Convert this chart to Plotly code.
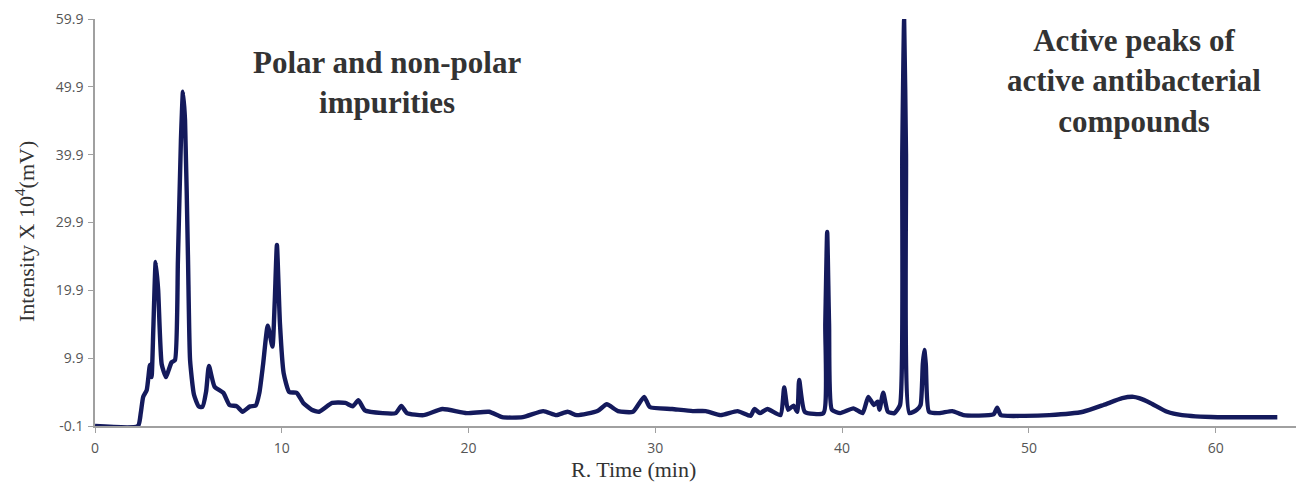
import plotly.graph_objects as go

# Retention time (min)
times = [0, 2.3, 2.45, 2.58, 2.77, 2.94, 3.03, 3.12, 3.25, 3.38, 3.57, 3.8, 3.95, 4.1,
         4.28, 4.44, 4.6, 4.71, 4.82, 4.98, 5.09, 5.3, 5.55, 5.75, 5.95, 6.1, 6.4, 6.87,
         7.2, 7.6, 7.9, 8.3, 8.6, 8.8, 9.0, 9.25, 9.5, 9.62, 9.74, 9.9, 10.1, 10.4, 10.8,
         11.15, 11.6, 12.0, 12.7, 13.4, 13.8, 14.1, 14.45, 15.4, 16.1, 16.4, 16.7, 17.6,
         18.6, 19.9, 21.1, 21.8, 22.9, 24.0, 24.7, 25.3, 25.8, 26.9, 27.4, 28.0, 28.8,
         29.4, 29.7, 30.9, 32.0, 32.7, 33.5, 34.4, 35.1, 35.3, 35.6, 36.0, 36.7, 36.9,
         37.1, 37.4, 37.6, 37.7, 38.0, 39.0, 39.1, 39.2, 39.3, 39.45, 39.9, 40.6, 41.1,
         41.4, 41.7, 41.9, 42.0, 42.2, 42.45, 42.8, 43.1, 43.22, 43.32, 43.42, 43.6, 44.0,
         44.2, 44.32, 44.4, 44.48, 44.65, 45.2, 45.9, 46.5, 48.1, 48.3, 48.5, 49.7, 51.1,
         52.9, 54.0, 55.0, 55.6, 55.9, 56.5, 57.4, 58.2, 60.1, 63.3]

# Intensity x 10^4 (mV)
intensity = [-0.1, -0.1, 1.8, 4.2, 5.2, 8.9, 7.1, 14.0, 24.1, 20.0, 9.0, 7.1, 8.2, 9.3,
             9.6, 24.4, 42.0, 49.2, 45.0, 24.4, 9.6, 4.5, 2.8, 2.7, 5.0, 8.75, 5.7, 4.8,
             3.0, 2.8, 2.0, 2.8, 2.9, 4.8, 9.0, 14.7, 11.6, 18.0, 26.6, 15.1, 7.7, 4.9, 4.8,
             3.3, 2.3, 2.0, 3.3, 3.3, 2.8, 3.7, 2.2, 1.8, 1.8, 2.85, 1.8, 1.5,
             2.4, 1.8, 2.0, 1.2, 1.2, 2.1, 1.5, 2.0, 1.5, 2.1, 3.1, 2.1, 2.0,
             4.2, 2.7, 2.4, 2.1, 2.1, 1.5, 2.1, 1.4, 2.4, 1.8, 2.4, 1.5, 5.6,
             2.3, 2.9, 2.0, 6.7, 2.0, 1.8, 15.0, 28.5, 15.0, 2.3, 1.8, 2.5, 1.8,
             4.2, 3.0, 3.5, 2.3, 4.8, 2.0, 1.8, 3.0, 40.0, 59.8, 40.0, 1.8, 2.3,
             3.0, 9.0, 11.1, 9.0, 2.0, 1.8, 2.1, 1.5, 1.6, 2.6, 1.5, 1.4, 1.5,
             2.0, 3.0, 4.0, 4.2, 4.0, 3.3, 2.0, 1.5, 1.2, 1.2]

y_ticks = [-0.1, 9.9, 19.9, 29.9, 39.9, 49.9, 59.9]
y_tick_labels = ["-0.1", "9.9", "19.9", "29.9", "39.9", "49.9", "59.9"]
x_ticks = [0, 10, 20, 30, 40, 50, 60]

n = min(len(times), len(intensity))

fig = go.Figure()
fig.add_trace(go.Scatter(
    x=times[:n], y=intensity[:n], mode="lines",
    line=dict(color="#141a5c", width=4.4, shape="spline", smoothing=0.5),
    showlegend=False, hoverinfo="skip",
))

axis_color = "#a0a0a0"
tick_font = dict(family="Open Sans, Lato, sans-serif", size=14, color="#555555")

fig.update_layout(
    width=1296, height=487,
    margin=dict(l=95, r=0, t=19, b=61),
    paper_bgcolor="white", plot_bgcolor="white",
    xaxis=dict(range=[0, 64.3], tickvals=x_ticks, showgrid=False, zeroline=False,
               showline=True, linecolor=axis_color, linewidth=1.5,
               ticks="outside", ticklen=5, tickcolor=axis_color, tickfont=tick_font,
               ticklabelstandoff=3),
    yaxis=dict(range=[-0.1, 59.9], tickvals=y_ticks, ticktext=y_tick_labels,
               showgrid=False, zeroline=False,
               showline=True, linecolor=axis_color, linewidth=1.5,
               ticks="outside", ticklen=5, tickcolor=axis_color, tickfont=tick_font,
               ticklabelstandoff=2),
)

title_font = dict(family="Liberation Serif", size=22, color="#333333")
ann_font = dict(family="Liberation Serif", size=31, color="#333333")

fig.add_annotation(text="Intensity X 10<sup>4</sup>(mV)", xref="paper", yref="paper",
                   x=(25 - 95) / 1201, y=(426 - 232) / 407, textangle=-90, showarrow=False,
                   font=title_font, xanchor="center", yanchor="middle")
fig.add_annotation(text="R. Time (min)", xref="paper", yref="paper",
                   x=(633 - 95) / 1201, y=(426 - 469) / 407, showarrow=False, font=title_font,
                   xanchor="center", yanchor="middle")
fig.add_annotation(text="<b>Polar and non-polar<br>impurities</b>", xref="paper", yref="paper",
                   x=(387 - 95) / 1201, y=(426 - 82) / 407, showarrow=False, font=ann_font,
                   xanchor="center", yanchor="middle", align="center")
fig.add_annotation(text="<b>Active peaks of<br>active antibacterial<br>compounds</b>",
                   xref="paper", yref="paper",
                   x=(1134 - 95) / 1201, y=(426 - 81) / 407, showarrow=False, font=ann_font,
                   xanchor="center", yanchor="middle", align="center")

fig.write_html("out.html")
